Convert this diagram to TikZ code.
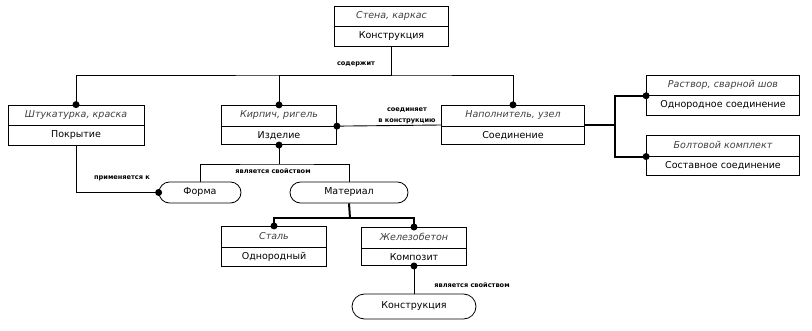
\documentclass[tikz,border=0pt]{standalone}
\usepackage{fontspec}
\setmainfont{DejaVu Sans}
\usetikzlibrary{shapes,shapes.multipart,shapes.misc,positioning,calc,arrows.meta}

\begin{document}
\begin{tikzpicture}[
      x=1pt, y=-1pt,
      entity/.style={rectangle split, rectangle split parts=2, draw=black, line width=0.8pt, font=\fontsize{9.5}{11}\selectfont, align=center, inner xsep=2pt, inner ysep=4.75pt, text height=7.5pt, text depth=3pt, fill=white},
      value/.style={rounded rectangle, draw=black, line width=0.8pt, font=\fontsize{9.5}{11}\selectfont, minimum height=21pt, inner xsep=2pt, fill=white},
      link/.style={draw=black, line width=0.9pt},
      strong/.style={draw=black, line width=2pt},
      rel/.style={font=\fontsize{6.6}{11}\selectfont\bfseries, inner sep=1pt, align=center},
    ]
    \useasboundingbox (0,0) rectangle (812,331);
    \newcommand{\kind}[1]{{\itshape\color{black!75}#1}}

    % entity boxes
    \node [entity, text width=110pt] (stena) at (391.5, 26) {\kind{Стена, каркас} \nodepart{two} Конструкция};
    \node [entity, text width=132pt] (shtuk) at (76, 125) {\kind{Штукатурка, краска} \nodepart{two} Покрытие};
    \node [entity, text width=111pt] (kirpich) at (279, 125) {\kind{Кирпич, ригель} \nodepart{two} Изделие};
    \node [entity, text width=139pt] (napoln) at (513, 125) {\kind{Наполнитель, узел} \nodepart{two} Соединение};
    \node [entity, text width=149pt] (rastvor) at (723, 95) {\kind{Раствор, сварной шов} \nodepart{two} Однородное соединение};
    \node [entity, text width=149pt] (bolt) at (723, 155.5) {\kind{Болтовой комплект} \nodepart{two} Составное соединение};
    \node [entity, text width=101pt] (stal) at (274, 246.5) {\kind{Сталь} \nodepart{two} Однородный};
    \node [entity, text width=101pt] (zhelbeton) at (414, 246.5) {\kind{Железобетон} \nodepart{two} Композит};

    % values
    \node [value, minimum width=86pt] (forma) at (200, 192.5) {Форма};
    \node [value, minimum width=122pt] (material) at (349, 192.5) {Материал};
    \node [value, minimum width=128pt, minimum height=25pt] (konstr) at (414, 306.5) {Конструкция};

    \coordinate (contains) at (391.5, 75);
    \coordinate (property) at (279, 164);
    \coordinate (joint) at (615, 125);
    \coordinate (matjoint) at (350, 218);

    \draw [link] (stena.south) -- (contains);
    \draw [link] (shtuk.north) |- (contains) -| (napoln.north);
    \draw [link] (contains) -| (kirpich.north);
    \draw [link] (kirpich.text split east) -- (napoln.west);
    \draw [link] (kirpich.south) -- (property);
    \draw [link] (forma.north) |- (property) -| (material.north);
    \draw [link] (shtuk.south) |- (forma.west);
    \draw [link] (zhelbeton.south) -- (konstr.north);

    \draw [strong] (napoln.east) -- (joint);
    \draw [strong] (rastvor.text split west) -| (joint) |- (bolt.text split west);
    \draw [strong] (material.south) -- (matjoint);
    \draw [strong] (stal.north) |- (matjoint) -| (zhelbeton.north);

    \foreach \a in {shtuk.north, kirpich.north, napoln.north, kirpich.south, kirpich.text split east, rastvor.text split west, bolt.text split west, forma.west, stal.north, zhelbeton.north, zhelbeton.south}
      \fill (\a) circle (3.5pt);

    \node [rel] (contains-lbl) at (356, 64) {содержит};
    \node [rel] (joins-lbl) at (407, 115.5) {соединяет\\в конструкцию};
    \node [rel] (prop-lbl) at (273, 171) {является свойством};
    \node [rel] (applies-lbl) at (122, 178) {применяется к};
    \node [rel] (prop2-lbl) at (472, 285) {является свойством};
  \end{tikzpicture}
\end{document}
